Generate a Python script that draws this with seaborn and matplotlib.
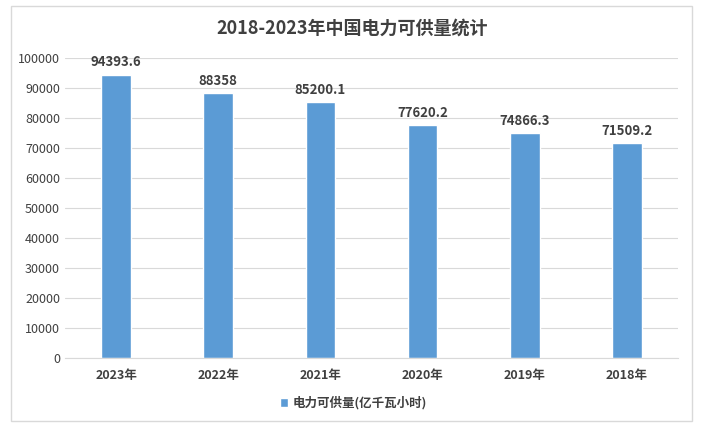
import matplotlib
matplotlib.use("Agg")
import matplotlib.pyplot as plt
import seaborn as sns
import pandas as pd
from matplotlib.patches import Rectangle

YEARS = ["2023年", "2022年", "2021年", "2020年", "2019年", "2018年"]
SUPPLY = [94393.6, 88358, 85200.1, 77620.2, 74866.3, 71509.2]
SERIES = "电力可供量(亿千瓦小时)"
TITLE = "2018-2023年中国电力可供量统计"

sns.set_style("white")
plt.rcParams['font.family'] = ['Noto Sans CJK SC', 'DejaVu Sans']

df = pd.DataFrame({"year": YEARS, "value": SUPPLY, "series": SERIES})

fig = plt.figure(figsize=(7.04, 4.28), dpi=100)
ax = fig.add_axes([0.0923, 0.1636, 0.8707, 0.7009])

sns.barplot(data=df, x="year", y="value", hue="series",
            palette=["#5b9bd5"], width=0.29, ax=ax, saturation=1)

ax.set_ylim(0, 100000)
ax.set_yticks(range(0, 100001, 10000))
ax.set_xlim(-0.5, 5.5)
ax.yaxis.grid(True, color="#d9d9d9", linewidth=0.8)
ax.set_axisbelow(True)
for s in ["top", "right", "left"]:
    ax.spines[s].set_visible(False)
ax.spines["bottom"].set_color("#d9d9d9")
ax.set_xlabel("")
ax.set_ylabel("")
ax.tick_params(axis="both", length=0, colors="#404040", labelsize=9)
for lab in ax.get_xticklabels():
    lab.set_fontweight("bold")
ax.tick_params(axis="x", pad=8)

for i, v in enumerate(SUPPLY):
    ax.text(i, v + 1800, f"{v:g}", ha="center", va="bottom",
            fontsize=9.5, fontweight="bold", color="#404040")

fig.text(0.5, 0.935, TITLE, ha="center", va="center", fontsize=13,
         fontweight="bold", color="#404040")

ax.legend(loc="upper center", bbox_to_anchor=(0.47, -0.09), frameon=False,
          handlelength=0.7, handleheight=0.7, handletextpad=0.3,
          prop={"size": 9, "weight": "bold"}, labelcolor="#404040")

fig.patches.append(Rectangle((0.016, 0.016), 0.967, 0.97, transform=fig.transFigure,
                             fill=False, edgecolor="#d9d9d9", linewidth=1))

fig.savefig("out.png", dpi=100)
